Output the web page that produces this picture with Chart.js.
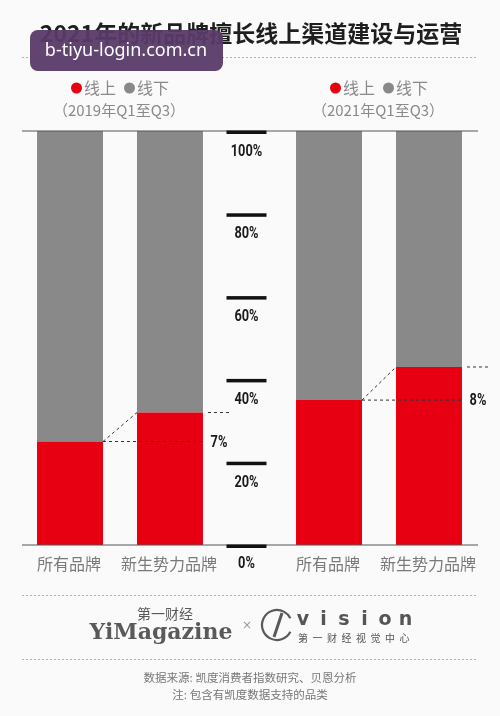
<!DOCTYPE html>
<html>
<head>
<meta charset="utf-8">
<script src="https://cdn.jsdelivr.net/npm/chart.js@4"></script>
<style>
  html, body { margin: 0; padding: 0; background: #fafafa; }
  #wrap { width: 500px; height: 716px; position: relative; }
</style>
</head>
<body>
<div id="wrap"><canvas id="brandChart"></canvas></div>
<script>
// data (share of sales, %)
const periods = ["2019年Q1至Q3", "2021年Q1至Q3"];
const brands = ["所有品牌", "新生势力品牌"];
const channels = ["线上", "线下"];
const onlineAll = [25, 35];
const offlineAll = [75, 65];
const onlineNew = [32, 43];
const offlineNew = [68, 57];
const yTicks = [0, 20, 40, 60, 80, 100];

const RED = "#e60012";
const GRAY = "#898989";
const CJK = '"Noto Sans CJK SC", "Noto Sans", sans-serif';

function dashed(ctx, x1, y1, x2, y2, dash, color) {
  ctx.save();
  ctx.strokeStyle = color;
  ctx.lineWidth = 1;
  ctx.setLineDash(dash);
  ctx.beginPath();
  ctx.moveTo(x1, y1);
  ctx.lineTo(x2, y2);
  ctx.stroke();
  ctx.restore();
}

// bold narrow numbers like the DIN-style labels
function numText(ctx, text, x, y, size) {
  ctx.save();
  ctx.font = "bold " + size + "px Roboto";
  ctx.fillStyle = "#1a1a1a";
  ctx.textAlign = "center";
  ctx.textBaseline = "middle";
  ctx.translate(x, y);
  ctx.scale(0.8, 1);
  ctx.fillText(text, 0, 0);
  ctx.restore();
}

const decor = {
  id: "decor",
  beforeDraw(chart) {
    const ctx = chart.ctx;
    const xs = chart.scales.x;
    ctx.save();
    ctx.fillStyle = "#fafafa";
    ctx.fillRect(0, 0, chart.width, chart.height);

    // title
    ctx.fillStyle = "#1e1e1e";
    ctx.font = "bold 23px " + CJK;
    ctx.textAlign = "center";
    ctx.textBaseline = "middle";
    ctx.fillText("2021年的新品牌擅长线上渠道建设与运营", 251, 33);
    dashed(ctx, 22, 57.5, 478, 57.5, [2, 2], "#b0b0b0");

    // per-period legend headers
    periods.forEach((p, i) => {
      const cx = xs.getPixelForValue(i);
      ctx.font = "16px " + CJK;
      const w1 = ctx.measureText(channels[0]).width;
      const w2 = ctx.measureText(channels[1]).width;
      const r = 5.5, gap = 2, sep = 8;
      const total = 2 * r * 2 + gap * 2 + w1 + w2 + sep;
      let x0 = cx - total / 2;
      const y0 = 88;
      ctx.fillStyle = RED;
      ctx.beginPath(); ctx.arc(x0 + r, y0, r, 0, Math.PI * 2); ctx.fill();
      x0 += 2 * r + gap;
      ctx.fillStyle = "#8a8a8a";
      ctx.textAlign = "left";
      ctx.fillText(channels[0], x0, y0);
      x0 += w1 + sep;
      ctx.fillStyle = GRAY;
      ctx.beginPath(); ctx.arc(x0 + r, y0, r, 0, Math.PI * 2); ctx.fill();
      x0 += 2 * r + gap;
      ctx.fillStyle = "#8a8a8a";
      ctx.fillText(channels[1], x0, y0);
      ctx.textAlign = "center";
      ctx.font = "15px " + CJK;
      ctx.fillText("（" + p + "）", cx - 1, 110);
    });
    ctx.restore();
  },
  afterDatasetsDraw(chart) {
    const ctx = chart.ctx;
    const xs = chart.scales.x, ys = chart.scales.y;
    ctx.save();

    // frame lines
    ctx.fillStyle = "#555";
    ctx.fillRect(22, ys.getPixelForValue(100) - 0.5, 456, 1);
    ctx.fillRect(22, ys.getPixelForValue(0) - 0.5, 456, 1);

    // centre axis: thick marks with labels below
    const ax = xs.getPixelForValue(0.5) - 3;
    yTicks.forEach(v => {
      const py = ys.getPixelForValue(v);
      ctx.fillStyle = "#111";
      ctx.fillRect(ax - 20, py - 0.5, 40, 3.5);
      numText(ctx, v + "%", ax, py + (v === 0 ? 18.5 : 20.5), 16);
    });

    // connectors between the online tops, plus the gap label
    const metaAll = chart.getDatasetMeta(0);
    const metaNew = chart.getDatasetMeta(2);
    periods.forEach((p, i) => {
      const a = metaAll.data[i], b = metaNew.data[i];
      const aR = a.x + a.width / 2, bL = b.x - b.width / 2, bR = b.x + b.width / 2;
      dashed(ctx, aR, a.y, bR, a.y, [3, 3], "#333");
      dashed(ctx, aR, a.y, bL, b.y, [3, 3], "#333");
      dashed(ctx, bR + 5, b.y, bR + 28, b.y, [3, 3], "#333");
      const diff = onlineNew[i] - onlineAll[i];
      numText(ctx, diff + "%", bR + 16, a.y + 1, 16);
    });

    // brand names under every bar
    ctx.font = "16px " + CJK;
    ctx.fillStyle = "#7a7a7a";
    ctx.textAlign = "center";
    ctx.textBaseline = "middle";
    [metaAll, metaNew].forEach((m, k) => {
      m.data.forEach(el => ctx.fillText(brands[k], el.x - 1, 564));
    });
    ctx.restore();
  },
  afterDraw(chart) {
    const ctx = chart.ctx;
    ctx.save();
    ctx.textAlign = "center";
    ctx.textBaseline = "middle";

    // footer
    dashed(ctx, 22, 595.5, 478, 595.5, [2, 2], "#b0b0b0");
    dashed(ctx, 22, 659.5, 478, 659.5, [2, 2], "#b0b0b0");
    ctx.fillStyle = "#5a5a5a";
    ctx.font = "14px " + CJK;
    ctx.fillText("第一财经", 165, 614);
    ctx.font = "bold 22px 'DejaVu Serif'";
    ctx.fillText("YiMagazine", 161, 633);
    ctx.fillStyle = "#999";
    ctx.font = "12px 'DejaVu Sans'";
    ctx.fillText("×", 247, 626);
    ctx.strokeStyle = "#5a5a5a";
    ctx.lineWidth = 2.2;
    ctx.beginPath();
    ctx.arc(277, 625, 15, Math.PI * 0.15, Math.PI * 1.85);
    ctx.stroke();
    ctx.lineWidth = 3;
    ctx.beginPath();
    ctx.moveTo(282, 613);
    ctx.lineTo(274, 637);
    ctx.stroke();
    ctx.fillStyle = "#555";
    ctx.font = "bold 19px 'DejaVu Sans'";
    "vision".split("").forEach((c, i) => ctx.fillText(c, 303 + i * 20.5, 620));
    ctx.font = "10px " + CJK;
    "第一财经视觉中心".split("").forEach((c, i) => ctx.fillText(c, 303 + i * 14.5, 638));

    ctx.fillStyle = "#777";
    ctx.font = "11.5px " + CJK;
    ctx.fillText("数据来源: 凯度消费者指数研究、贝恩分析", 250, 678);
    ctx.fillText("注: 包含有凯度数据支持的品类", 250, 695);

    // site watermark
    ctx.fillStyle = "rgba(88, 58, 104, 0.95)";
    ctx.beginPath();
    ctx.roundRect(30, 30, 193, 41, 8);
    ctx.fill();
    ctx.fillStyle = "#fff";
    ctx.font = "18px 'Noto Sans'";
    ctx.fillText("b-tiyu-login.com.cn", 126, 51);
    ctx.restore();
  }
};

const ctx_bar = document.getElementById("brandChart").getContext("2d");

const brandChart = new Chart(ctx_bar, {
  type: "bar",
  data: {
    labels: periods,
    datasets: [
      { label: channels[0], stack: "all", data: onlineAll, backgroundColor: RED },
      { label: channels[1], stack: "all", data: offlineAll, backgroundColor: GRAY },
      { label: channels[0], stack: "new", data: onlineNew, backgroundColor: RED },
      { label: channels[1], stack: "new", data: offlineNew, backgroundColor: GRAY },
    ],
  },
  options: {
    responsive: true,
    maintainAspectRatio: false,
    animation: false,
    events: [],
    datasets: { bar: { clip: false, categoryPercentage: 0.772, barPercentage: 0.66 } },
    layout: { padding: { left: 120, right: 121, top: 131, bottom: 171 } },
    plugins: { legend: { display: false }, title: { display: false }, tooltip: { enabled: false } },
    scales: {
      x: { stacked: true, offset: false, display: false },
      y: { stacked: true, min: 0, max: 100, display: false },
    },
  },
  plugins: [decor],
});
</script>
</body>
</html>
